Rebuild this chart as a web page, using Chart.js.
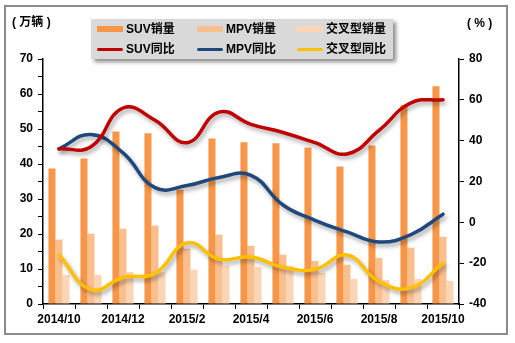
<!DOCTYPE html>
<html>
<head>
<meta charset="utf-8">
<script src="https://cdn.jsdelivr.net/npm/chart.js@4"></script>
<style>
  body { margin: 0; background: #fff; font-family: Arial, "Liberation Sans", "Noto Sans CJK SC", sans-serif; }
  #wrap { position: relative; width: 515px; height: 343px; }
  #frame { position: absolute; left: 4px; top: 5px; width: 500px; height: 326px; border: 2px solid #8a8a8a; }
  canvas { position: absolute; left: 0; top: 0; }
  .lbl { position: absolute; font-size: 12px; font-weight: bold; color: #000; line-height: 14px; white-space: nowrap; }
  #legend { position: absolute; left: 91px; top: 19px; width: 302px; height: 40px; background: #d9d9d9; box-shadow: 3px 3px 4px rgba(0,0,0,0.45); }
  .sw { position: absolute; }
</style>
</head>
<body>
<div id="wrap">
  <div id="frame"></div>
  <canvas id="c" width="515" height="343"></canvas>
  <div class="lbl" style="left:12px;top:15px">( 万辆 )</div>
  <div class="lbl" style="left:467px;top:16px">( % )</div>
  <div id="legend"></div>
</div>
<script>
const months = ["2014/10", "2014/11", "2014/12", "2015/1", "2015/2", "2015/3", "2015/4",
  "2015/5", "2015/6", "2015/7", "2015/8", "2015/9", "2015/10"];
const suvSales = [38.7, 41.6, 49.3, 48.8, 32.7, 47.3, 46.2, 45.9, 44.7, 39.3, 45.3, 56.8, 62.2];
const mpvSales = [18.4, 20.1, 21.5, 22.4, 15.8, 19.8, 16.6, 14.1, 12.3, 11.2, 13.2, 16.1, 19.2];
const crossSales = [8.3, 8.3, 9.2, 9.0, 9.8, 11.0, 10.6, 10.8, 8.9, 7.2, 6.9, 7.2, 6.6];
const suvYoY = [36, 37, 56, 50, 39, 54, 48, 44, 39, 33.5, 45, 58.5, 60];
const mpvYoY = [36, 43, 34, 17, 18, 22, 23, 8.5, 1, -4.7, -9.6, -6, 4];
const crossYoY = [-16, -33, -27, -25, -10, -18, -17, -22, -23, -16, -29, -32, -20];

const legendItems = [
  { text: "SUV销量", color: "#F79646", type: "bar" },
  { text: "MPV销量", color: "#FABF8F", type: "bar" },
  { text: "交叉型销量", color: "#FCD5B4", type: "bar" },
  { text: "SUV同比", color: "#C00000", type: "line" },
  { text: "MPV同比", color: "#1F497D", type: "line" },
  { text: "交叉型同比", color: "#FFC000", type: "line" },
];

// legend as html, 3 columns x 2 rows
let lg = document.getElementById("legend");
legendItems.forEach((it, i) => {
  let col = i % 3, row = Math.floor(i / 3);
  let x = 6 + col * 100, yc = 10 + row * 20;
  let sw = document.createElement("div");
  sw.className = "sw";
  sw.style.left = x + "px";
  sw.style.width = "26px";
  sw.style.background = it.color;
  if (it.type == "bar") {
    sw.style.top = (yc - 3) + "px";
    sw.style.height = "6px";
  } else {
    sw.style.top = (yc - 1.5) + "px";
    sw.style.height = "3px";
    sw.style.borderRadius = "2px";
  }
  lg.appendChild(sw);
  let t = document.createElement("div");
  t.className = "lbl";
  t.style.left = (x + 29) + "px";
  t.style.top = (yc - 7) + "px";
  t.innerText = it.text;
  lg.appendChild(t);
});

Chart.defaults.font.family = 'Arial, "Liberation Sans", "Noto Sans CJK SC", sans-serif';
Chart.defaults.font.size = 12;
Chart.defaults.font.weight = "bold";
Chart.defaults.color = "#000";

const lineShadow = {
  id: "lineShadow",
  beforeDatasetDraw(chart, args) {
    if (args.meta.type !== "line") return;
    let ctx = chart.ctx;
    ctx.save();
    ctx.shadowColor = "rgba(0,0,0,0.35)";
    ctx.shadowBlur = 4;
    ctx.shadowOffsetX = 2;
    ctx.shadowOffsetY = 3;
  },
  afterDatasetDraw(chart, args) {
    if (args.meta.type !== "line") return;
    chart.ctx.restore();
  },
};

function barSet(label, data, color) {
  return {
    type: "bar", label: label, data: data, backgroundColor: color,
    yAxisID: "y", order: 1, barPercentage: 1, categoryPercentage: 0.66,
  };
}
function lineSet(label, data, color) {
  return {
    type: "line", label: label, data: data, borderColor: color, borderWidth: 3.5,
    yAxisID: "y1", order: 0, tension: 0.45, pointRadius: 0, fill: false,
    borderCapStyle: "round",
  };
}

new Chart(document.getElementById("c").getContext("2d"), {
  data: {
    labels: months,
    datasets: [
      lineSet("SUV同比", suvYoY, "#C00000"),
      lineSet("MPV同比", mpvYoY, "#1F497D"),
      lineSet("交叉型同比", crossYoY, "#FFC000"),
      barSet("SUV销量", suvSales, "#F79646"),
      barSet("MPV销量", mpvSales, "#FABF8F"),
      barSet("交叉型销量", crossSales, "#FCD5B4"),
    ],
  },
  options: {
    responsive: false,
    animation: false,
    layout: { padding: { top: 59, left: 0, right: 0, bottom: 0 } },
    plugins: { legend: { display: false }, tooltip: { enabled: false } },
    scales: {
      x: {
        offset: true,
        grid: { offset: true, drawOnChartArea: false, color: "#000", tickLength: 5 },
        border: { color: "#000", width: 1.5 },
        ticks: {
          autoSkip: false, maxRotation: 0, minRotation: 0, padding: 3,
          callback: (v, i) => (i % 2 ? "" : months[i]),
        },
        afterFit: (s) => { s.height = 39; },
      },
      y: {
        position: "left", min: 0, max: 70,
        grid: { drawOnChartArea: false, color: "#000", tickLength: 5 },
        border: { color: "#000", width: 1.5 },
        ticks: { stepSize: 5, padding: 5, callback: (v) => (v % 10 ? "" : v) },
        afterFit: (s) => { s.width = 43; },
      },
      y1: {
        position: "right", min: -40, max: 80,
        grid: { drawOnChartArea: false, color: "#000", tickLength: 5 },
        border: { color: "#000", width: 1.5 },
        ticks: { stepSize: 20, padding: 5 },
        afterFit: (s) => { s.width = 56; },
      },
    },
  },
  plugins: [lineShadow],
});
</script>
</body>
</html>
